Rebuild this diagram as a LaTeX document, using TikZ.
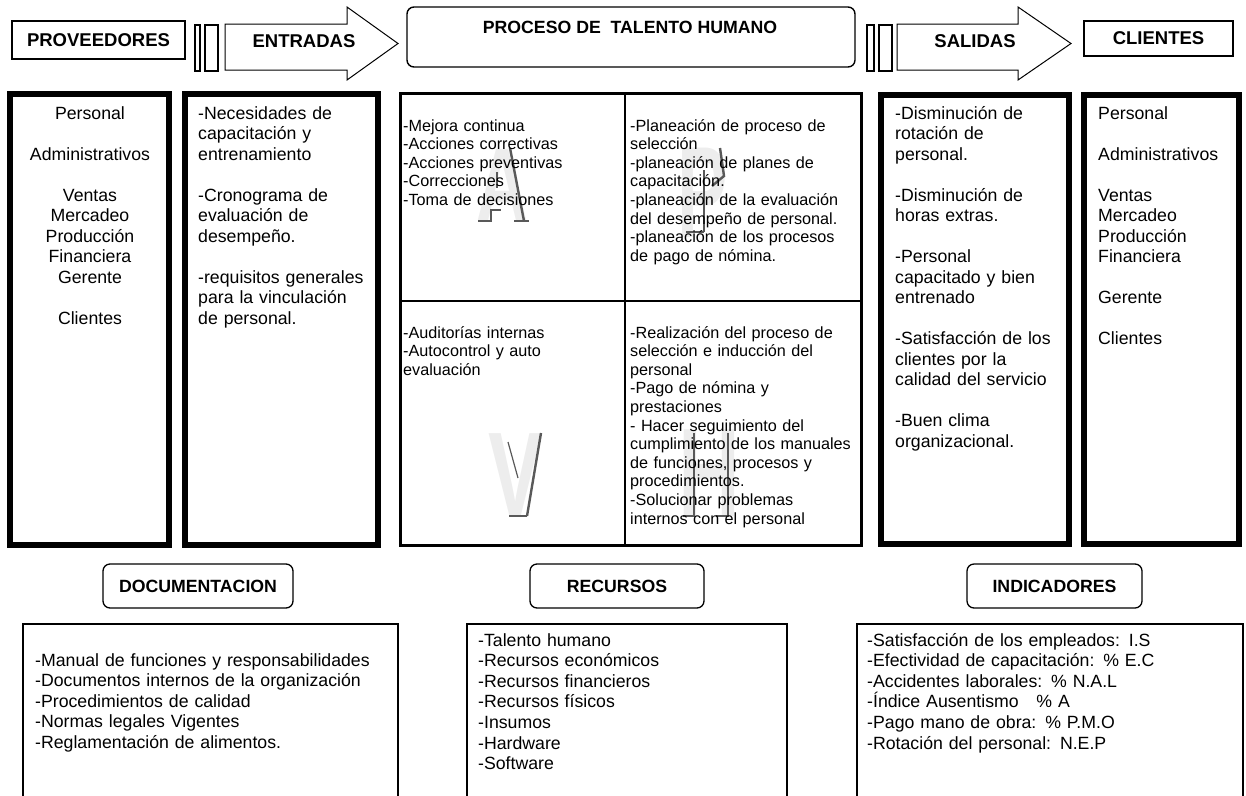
\documentclass[tikz,border=0pt]{standalone}
\usepackage{fontspec}
\setmainfont{Liberation Sans}
\begin{document}
\begin{tikzpicture}[x=1pt,y=-1pt,
  frame/.style={draw, anchor=north west, inner sep=0pt, outer sep=0pt},
  thinframe/.style={frame, line width=1.3pt},
  thickframe/.style={frame, line width=6pt},
  roundframe/.style={frame, line width=1.3pt, rounded corners=7pt},
  quadframe/.style={frame, line width=3pt},
  title/.style={font=\fontsize{18.5}{21}\selectfont\bfseries, inner sep=0pt},
  subtitle/.style={font=\fontsize{17.7}{20}\selectfont\bfseries, inner sep=0pt},
  coltext/.style={font=\fontsize{17.7}{20.5}\selectfont, inner sep=0pt,
    anchor=base west, align=left, text width=#1},
  colcenter/.style={font=\fontsize{17.7}{20.5}\selectfont, inner sep=0pt,
    anchor=base, align=center, text width=#1},
  quadtext/.style={font=\fontsize{16.2}{18.6}\selectfont, inner sep=0pt,
    anchor=base west, align=left, text width=225pt},
  listtext/.style={font=\fontsize{17.7}{20.6}\selectfont, inner sep=0pt,
    anchor=base west, align=left, text width=#1},
  wm/.style={text=gray!14, inner sep=0pt, font=\fontsize{#1}{#1}\selectfont\bfseries},
  wmline/.style={draw=black!65, line width=2.4pt},
  blockarrow/.style={draw, line width=1pt, line join=miter}
]
\useasboundingbox (0,0) rectangle (1246,795);
\clip (0,0) rectangle (1246,795);

% ---------- top row ----------
\node[thinframe, minimum width=173pt, minimum height=38pt] (provBox) at (12,21) {};
\node[title] (provTitle) at (provBox.center) {PROVEEDORES};

\node[frame, line width=1.2pt, minimum width=5pt, minimum height=46pt] (barA1) at (195,25) {};
\node[frame, line width=1.2pt, minimum width=13pt, minimum height=46pt] (barA2) at (205,25) {};
\draw[blockarrow] (225,24) -- (347,24) -- (347,7) -- (398,43.5) -- (347,80) -- (347,70) -- (225,70) -- cycle;
\node[title] (entTitle) at (304,41) {ENTRADAS};

\node[frame, line width=1.4pt, rounded corners=7pt, minimum width=448pt, minimum height=60pt] (procBox) at (407,7) {};
\node[subtitle] (procTitle) at (630,27) {PROCESO DE~ TALENTO HUMANO};

\node[frame, line width=1.2pt, minimum width=7pt, minimum height=46pt] (barB1) at (867,25) {};
\node[frame, line width=1.2pt, minimum width=13pt, minimum height=46pt] (barB2) at (879,25) {};
\draw[blockarrow] (897,24) -- (1018,24) -- (1018,7) -- (1071,43.5) -- (1018,80) -- (1018,70) -- (897,70) -- cycle;
\node[title] (salTitle) at (975,41) {SALIDAS};

\node[thinframe, minimum width=149pt, minimum height=35pt] (cliBox) at (1084,21) {};
\node[title] (cliTitle) at (cliBox.center) {CLIENTES};

% ---------- middle row: columns ----------
\node[thickframe, minimum width=159pt, minimum height=451pt] (provCol) at (10,94) {};
\node[colcenter=150pt] (provText) at (90,119)
  {Personal\\[20.5pt]Administrativos\\[20.5pt]Ventas\\Mercadeo\\Producción\\Financiera\\Gerente\\[20.5pt]Clientes};

\node[thickframe, minimum width=193pt, minimum height=451pt] (entCol) at (185,94) {};
\node[coltext=178pt] (entText) at (198,119)
  {-Necesidades de\\capacitación y\\entrenamiento\\[20.5pt]-Cronograma de\\evaluación de\\desempeño.\\[20.5pt]-requisitos generales\\para la vinculación\\de personal.};

\node[thickframe, minimum width=188pt, minimum height=449pt] (salCol) at (881,95) {};
\node[coltext=172pt] (salText) at (895,119)
  {-Disminución de\\rotación de\\personal.\\[20.5pt]-Disminución de\\horas extras.\\[20.5pt]-Personal\\capacitado y bien\\entrenado\\[20.5pt]-Satisfacción de los\\clientes por la\\calidad del servicio\\[20.5pt]-Buen clima\\organizacional.};

\node[thickframe, minimum width=155pt, minimum height=449pt] (cliCol) at (1084,95) {};
\node[coltext=140pt] (cliText) at (1098,119)
  {Personal\\[20.5pt]Administrativos\\[20.5pt]Ventas\\Mercadeo\\Producción\\Financiera\\[20.5pt]Gerente\\[20.5pt]Clientes};

% ---------- middle row: PHVA cycle ----------
\node[quadframe, minimum width=461pt, minimum height=452pt] (cycle) at (400,93) {};
\coordinate (midTop) at (625,93);
\coordinate (midBot) at (625,545);
\coordinate (midLeft) at (400,301);
\coordinate (midRight) at (861,301);
\draw[line width=1.6pt] (midTop) -- (midBot);
\draw[line width=1.6pt] (midLeft) -- (midRight);

% large shaded letters behind each quadrant
\node[wm=103] (letA) at (503,185) {\scalebox{0.7}[1]{A}};
\node[wm=130] (letP) at (703,193) {\scalebox{0.58}[1]{P}};
\node[wm=119] (letV) at (515,475) {\scalebox{0.68}[1]{V}};
\node[wm=126] (letH) at (709,473) {\scalebox{0.68}[1]{H}};
\draw[wmline] (510,148) -- (524,221);
\draw[wmline] (514,221) -- (529,221);
\draw[wmline] (478,221) -- (491,221) -- (491,210) -- (501,210);
\draw[wmline, line width=1.6pt] (497,172) -- (497,188);
\draw[wmline] (704,170) -- (704,232);
\draw[wmline] (686,232) -- (704,232);
\draw[wmline] (720,148) -- (724,176) -- (712,186);
\draw[wmline] (541,433) -- (527,516);
\draw[wmline] (509,516) -- (527,516);
\draw[wmline, line width=1.2pt] (508,442) -- (518,478);
\draw[wmline] (694,433) -- (694,516) -- (683,516);
\draw[wmline] (728,433) -- (728,516) -- (716,516);

\node[quadtext] (actText) at (403,131)
  {-Mejora continua\\-Acciones correctivas\\-Acciones preventivas\\-Correcciones\\-Toma de decisiones};
\node[quadtext] (planText) at (630,131)
  {-Planeación de proceso de\\selección\\-planeación de planes de\\capacitación.\\-planeación de la evaluación\\del desempeño de personal.\\-planeación de los procesos\\de pago de nómina.};
\node[quadtext] (verText) at (403,338)
  {-Auditorías internas\\-Autocontrol y auto\\evaluación};
\node[quadtext] (doText) at (630,338)
  {-Realización del proceso de\\selección e inducción del\\personal\\-Pago de nómina y\\prestaciones\\- Hacer seguimiento del\\cumplimiento de los manuales\\de funciones, procesos y\\procedimientos.\\-Solucionar problemas\\internos con el personal};

% ---------- bottom row ----------
\node[roundframe, minimum width=190pt, minimum height=44pt] (docHead) at (103,564) {};
\node[subtitle] (docTitle) at (docHead.center) {DOCUMENTACION};
\node[thinframe, minimum width=375pt, minimum height=190pt] (docBox) at (23,624) {};
\node[listtext=360pt] (docText) at (35,666)
  {-Manual de funciones y responsabilidades\\-Documentos internos de la organización\\-Procedimientos de calidad\\-Normas legales Vigentes\\-Reglamentación de alimentos.};

\node[roundframe, minimum width=174pt, minimum height=44pt] (recHead) at (530,564) {};
\node[subtitle] (recTitle) at (recHead.center) {RECURSOS};
\node[thinframe, minimum width=320pt, minimum height=190pt] (recBox) at (467,624) {};
\node[listtext=300pt] (recText) at (478,646)
  {-Talento humano\\-Recursos económicos\\-Recursos financieros\\-Recursos físicos\\-Insumos\\-Hardware\\-Software};

\node[roundframe, minimum width=175pt, minimum height=44pt] (indHead) at (967,564) {};
\node[subtitle] (indTitle) at (indHead.center) {INDICADORES};
\node[thinframe, minimum width=386pt, minimum height=190pt] (indBox) at (857,624) {};
\node[listtext=370pt] (indText) at (867,646)
  {-Satisfacción de los empleados: I.S\\-Efectividad de capacitación: \% E.C\\-Accidentes laborales: \% N.A.L\\-Índice Ausentismo~~~\% A\\-Pago mano de obra: \% P.M.O\\-Rotación del personal: N.E.P};
\end{tikzpicture}
\end{document}
